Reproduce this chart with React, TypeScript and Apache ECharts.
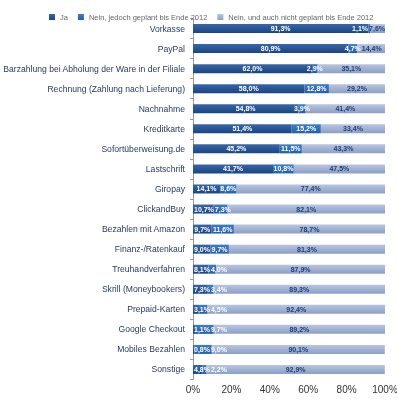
import React, { useEffect, useRef } from "react";
import * as echarts from "echarts";

const categories = [
  "Vorkasse",
  "PayPal",
  "Barzahlung bei Abholung der Ware in der Filiale",
  "Rechnung (Zahlung nach Lieferung)",
  "Nachnahme",
  "Kreditkarte",
  "Sofortüberweisung.de",
  "Lastschrift",
  "Giropay",
  "ClickandBuy",
  "Bezahlen mit Amazon",
  "Finanz-/Ratenkauf",
  "Treuhandverfahren",
  "Skrill (Moneybookers)",
  "Prepaid-Karten",
  "Google Checkout",
  "Mobiles Bezahlen",
  "Sonstige",
];

const seriesNames = [
  "Ja",
  "Nein, jedoch geplant bis Ende 2012",
  "Nein, und auch nicht geplant bis Ende 2012",
];

const ja = [91.3, 80.9, 62.0, 58.0, 54.8, 51.4, 45.2, 41.7, 14.1, 10.7, 9.7, 9.0, 8.1, 7.3, 3.1, 1.1, 0.8, 4.8];
const geplant = [1.1, 4.7, 2.9, 12.8, 3.9, 15.2, 11.5, 10.8, 8.6, 7.3, 11.6, 9.7, 4.0, 3.4, 4.5, 9.7, 9.0, 2.2];
const nichtGeplant = [7.6, 14.4, 35.1, 29.2, 41.4, 33.4, 43.3, 47.5, 77.4, 82.1, 78.7, 81.3, 87.9, 89.3, 92.4, 89.2, 90.1, 92.9];

const xTicks = [0, 20, 40, 60, 80, 100];

const fmt = (v: number) => v.toFixed(1).replace(".", ",") + "%";

const LABEL_FONT = "bold 7px 'Liberation Sans'";

export default function App() {
  const ref = useRef<HTMLDivElement>(null);
  useEffect(() => {
    if (!ref.current) return;
    const chart = echarts.init(ref.current, null, { renderer: "svg" });
    const grad = (a: string, b: string) =>
      new echarts.graphic.LinearGradient(0, 0, 0, 1, [
        { offset: 0, color: a },
        { offset: 1, color: b },
      ]);
    const colors = ["#1f4e8f", "#2c6cb8", "#9fb1d2"];
    const fills = [
      grad("#3866a8", "#1a4582"),
      grad("#3d7cc6", "#2560a8"),
      grad("#b7c5df", "#8b9fc6"),
    ];
    const datas = [ja, geplant, nichtGeplant];
    const labelColors = ["#ffffff", "#ffffff", "#1f3f78"];

    const canvas = document.createElement("canvas");
    const ctx = canvas.getContext("2d")!;
    ctx.font = LABEL_FONT;
    const measure = (s: string) => ctx.measureText(s).width;

    // Spread the labels of one row so that they do not overlap.
    const rowStarts = (row: number, rect: any, seriesIndex: number) => {
      const vals = datas.map((d) => d[row]);
      const ppu = rect.width / vals[seriesIndex];
      let before = 0;
      for (let k = 0; k < seriesIndex; k++) before += vals[k];
      const x0 = rect.x - before * ppu;
      const total = vals.reduce((a, b) => a + b, 0);
      const xEnd = x0 + total * ppu;
      const widths = vals.map((v) => measure(fmt(v)));
      const starts: number[] = [];
      let acc = 0;
      let prevEnd = x0 + 1;
      vals.forEach((v, k) => {
        const c = x0 + (acc + v / 2) * ppu;
        acc += v;
        const s = Math.max(c - widths[k] / 2, prevEnd);
        starts.push(s);
        prevEnd = s + widths[k] + 1;
      });
      let nextStart = xEnd;
      for (let k = vals.length - 1; k >= 0; k--) {
        if (starts[k] + widths[k] > nextStart) starts[k] = nextStart - widths[k];
        nextStart = starts[k] - 1;
      }
      return starts;
    };

    chart.setOption({
      animation: false,
      color: colors,
      legend: {
        data: seriesNames,
        top: 8,
        left: 44,
        width: 360,
        itemWidth: 6,
        itemHeight: 6,
        itemGap: 10,
        icon: "rect",
        textStyle: { fontSize: 7.5, color: "#666", fontFamily: "Liberation Sans" },
      },
      grid: {
        left: 193,
        right: 12,
        top: 18.5,
        bottom: 20.5,
        containLabel: false,
        outerBoundsMode: "none",
      },
      xAxis: {
        type: "value",
        min: 0,
        max: 100,
        interval: 20,
        axisLabel: {
          formatter: (v: number) => (xTicks.includes(v) ? v + "%" : ""),
          fontSize: 10,
          color: "#333",
          fontFamily: "Liberation Sans",
          margin: 5,
        },
        splitLine: { show: false },
        axisLine: { show: false },
        axisTick: { show: false },
      },
      yAxis: {
        type: "category",
        data: categories,
        inverse: true,
        axisLine: { show: true, lineStyle: { color: "#999" } },
        axisTick: { show: true, length: 3, lineStyle: { color: "#999" } },
        axisLabel: {
          fontSize: 8.6,
          color: "#2a3a58",
          fontFamily: "Liberation Sans",
          margin: 8,
        },
      },
      series: datas.map((d, i) => ({
        name: seriesNames[i],
        type: "bar",
        stack: "total",
        data: d,
        barWidth: 9,
        itemStyle: { color: fills[i] },
        labelLayout: (p: any) => {
          const starts = rowStarts(p.dataIndex, p.rect, p.seriesIndex);
          return {
            x: starts[p.seriesIndex],
            y: p.rect.y + p.rect.height / 2,
            align: "left",
            verticalAlign: "middle",
          };
        },
        label: {
          show: true,
          position: "inside",
          formatter: (p: any) => fmt(p.value),
          fontSize: 7,
          fontWeight: "bold",
          color: labelColors[i],
          fontFamily: "Liberation Sans",
        },
      })),
    });
    return () => chart.dispose();
  }, []);
  return (
    <div
      ref={ref}
      style={{ position: "fixed", left: 0, top: 0, width: 397, height: 400 }}
    />
  );
}
